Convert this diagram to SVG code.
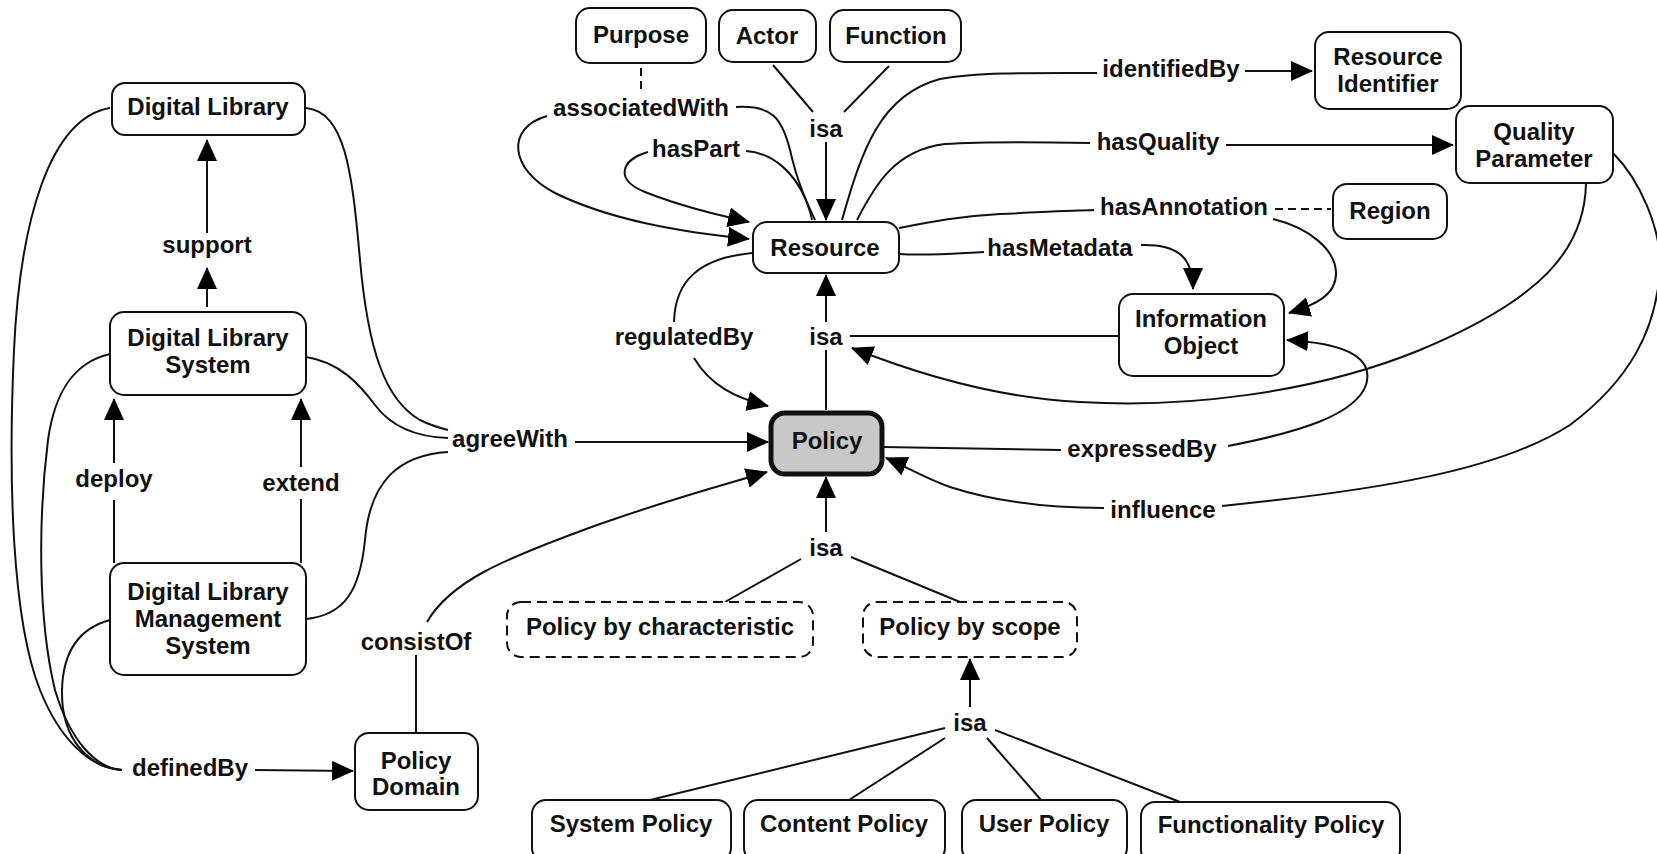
<svg xmlns="http://www.w3.org/2000/svg" width="1657" height="854" viewBox="0 0 1657 854">
<defs>
<style>
.t{font-family:"Liberation Sans",Arial,sans-serif;font-weight:bold;font-size:24px;fill:#111;text-anchor:middle}
.b{fill:#fff;stroke:#111;stroke-width:2}
.d{fill:#fff;stroke:#111;stroke-width:2;stroke-dasharray:10 6}
.c{fill:none;stroke:#111;stroke-width:2}
.k{fill:none;stroke:#111;stroke-width:2;stroke-dasharray:8 5}
</style>
<marker id="arr" viewBox="0 0 22 20" markerWidth="22" markerHeight="20" refX="21" refY="10" orient="auto" markerUnits="userSpaceOnUse"><path d="M0,0 L22,10 L0,20 z" fill="#000"/></marker>
</defs>
<rect width="1657" height="854" fill="#fff"/>

<g id="connectors">
<!-- support -->
<path class="c" d="M207,307 L207,268" marker-end="url(#arr)"/>
<path class="c" d="M207,233 L207,140" marker-end="url(#arr)"/>
<!-- deploy / extend -->
<path class="c" d="M114,463 L114,399" marker-end="url(#arr)"/>
<path class="c" d="M114,500 L114,563"/>
<path class="c" d="M301,467 L301,399" marker-end="url(#arr)"/>
<path class="c" d="M301,499 L301,563"/>
<!-- definedBy -->
<path class="c" d="M110,108 C50,118 20,220 14,350 C8,480 12,620 40,690 C60,740 90,768 122,770"/>
<path class="c" d="M110,354 C75,362 55,390 48,440 C38,520 38,620 55,690 C70,740 95,768 122,770"/>
<path class="c" d="M110,620 C80,628 63,650 62,690 C61,740 90,768 122,770"/>
<path class="c" d="M255,770 L353,771" marker-end="url(#arr)"/>
<!-- agreeWith -->
<path class="c" d="M306,108 C345,112 352,170 360,260 C368,350 385,400 420,420 C432,426 440,428 448,430"/>
<path class="c" d="M306,357 C340,362 360,385 375,405 C390,425 415,437 448,438"/>
<path class="c" d="M306,619 C345,615 360,590 365,540 C370,480 400,455 448,452"/>
<path class="c" d="M575,442 L768,442" marker-end="url(#arr)"/>
<!-- consistOf -->
<path class="c" d="M416,655 L416,733"/>
<path class="c" d="M427,622 C450,582 500,560 600,524 C680,496 720,486 767,472" marker-end="url(#arr)"/>
<!-- isa top -->
<path class="c" d="M773,65 L813,112"/>
<path class="c" d="M889,66 L844,112"/>
<path class="c" d="M826,142 L826,220" marker-end="url(#arr)"/>
<!-- Purpose dashed -->
<path class="k" d="M641,68 L641,94"/>
<!-- associatedWith -->
<path class="c" d="M736,107 C772,105 782,118 790,150 C798,185 808,205 815,220"/>
<path class="c" d="M547,116 C505,128 510,170 555,193 C610,220 680,232 749,239" marker-end="url(#arr)"/>
<!-- hasPart -->
<path class="c" d="M746,151 C775,153 795,175 805,198 C809,208 811,214 812,220"/>
<path class="c" d="M648,152 C620,160 615,180 645,192 C680,206 715,214 749,222" marker-end="url(#arr)"/>
<!-- identifiedBy -->
<path class="c" d="M842,220 C862,150 880,95 940,79 C980,72 1040,73 1097,73"/>
<path class="c" d="M1245,71 L1312,71" marker-end="url(#arr)"/>
<!-- hasQuality -->
<path class="c" d="M857,220 C875,185 895,150 945,144 C990,141 1040,142 1090,143"/>
<path class="c" d="M1226,145 L1453,145" marker-end="url(#arr)"/>
<!-- hasAnnotation -->
<path class="c" d="M899,228 C930,222 960,216 1000,214 C1040,212 1070,211 1094,210"/>
<path class="k" d="M1275,209 L1331,209"/>
<path class="c" d="M1273,219 C1310,228 1335,250 1336,272 C1337,295 1315,305 1289,313" marker-end="url(#arr)"/>
<!-- hasMetadata -->
<path class="c" d="M899,254 C930,256 960,253 984,252"/>
<path class="c" d="M1141,245 C1175,244 1193,255 1193,289" marker-end="url(#arr)"/>
<!-- regulatedBy -->
<path class="c" d="M752,253 C700,258 675,280 674,322"/>
<path class="c" d="M694,358 C710,385 735,398 768,406" marker-end="url(#arr)"/>
<!-- isa mid -->
<path class="c" d="M826,410 L826,350"/>
<path class="c" d="M826,322 L826,275" marker-end="url(#arr)"/>
<path class="c" d="M850,336 L1119,336"/>
<path class="c" d="M1586,183 C1585,250 1540,300 1420,350 C1310,395 1180,408 1080,402 C1000,398 920,375 852,348" marker-end="url(#arr)"/>
<!-- expressedBy -->
<path class="c" d="M883,447 L1061,450"/>
<path class="c" d="M1228,446 C1300,432 1355,415 1366,385 C1375,355 1340,343 1287,340" marker-end="url(#arr)"/>
<!-- influence -->
<path class="c" d="M1613,153 C1640,180 1662,230 1660,270 C1656,330 1630,380 1570,425 C1500,470 1380,490 1222,506"/>
<path class="c" d="M1104,508 C1040,508 990,500 950,487 C925,478 905,466 886,458" marker-end="url(#arr)"/>
<!-- isa below Policy -->
<path class="c" d="M826,532 L826,477" marker-end="url(#arr)"/>
<path class="c" d="M801,559 L725,602"/>
<path class="c" d="M851,557 L960,602"/>
<!-- isa bottom -->
<path class="c" d="M970,707 L970,659" marker-end="url(#arr)"/>
<path class="c" d="M945,728 L650,800"/>
<path class="c" d="M945,738 L849,800"/>
<path class="c" d="M987,738 L1041,800"/>
<path class="c" d="M995,730 L1180,802"/>
</g>

<g id="labels">
<text class="t" x="207" y="253">support</text>
<text class="t" x="114" y="487">deploy</text>
<text class="t" x="301" y="491">extend</text>
<text class="t" x="510" y="447">agreeWith</text>
<text class="t" x="416" y="650">consistOf</text>
<text class="t" x="190" y="776">definedBy</text>
<text class="t" x="641" y="116">associatedWith</text>
<text class="t" x="696" y="157">hasPart</text>
<text class="t" x="826" y="137">isa</text>
<text class="t" x="684" y="345">regulatedBy</text>
<text class="t" x="826" y="345">isa</text>
<text class="t" x="826" y="556">isa</text>
<text class="t" x="970" y="731">isa</text>
<text class="t" x="1171" y="77">identifiedBy</text>
<text class="t" x="1158" y="150">hasQuality</text>
<text class="t" x="1184" y="215">hasAnnotation</text>
<text class="t" x="1060" y="256">hasMetadata</text>
<text class="t" x="1142" y="457">expressedBy</text>
<text class="t" x="1163" y="518">influence</text>
</g>

<g id="digital-library"><rect class="b" x="112" y="83" width="193" height="52" rx="13"/><text class="t" x="208" y="115">Digital Library</text></g>
<g id="digital-library-system"><rect class="b" x="110" y="312" width="196" height="83" rx="14"/><text class="t" x="208" y="346">Digital Library</text><text class="t" x="208" y="373">System</text></g>
<g id="dlms"><rect class="b" x="110" y="563" width="196" height="112" rx="14"/><text class="t" x="208" y="600">Digital Library</text><text class="t" x="208" y="627">Management</text><text class="t" x="208" y="654">System</text></g>
<g id="policy-domain"><rect class="b" x="355" y="733" width="123" height="77" rx="14"/><text class="t" x="416" y="769">Policy</text><text class="t" x="416" y="795">Domain</text></g>
<g id="purpose"><rect class="b" x="576" y="8" width="130" height="55" rx="14"/><text class="t" x="641" y="43">Purpose</text></g>
<g id="actor"><rect class="b" x="719" y="10" width="97" height="52" rx="14"/><text class="t" x="767" y="44">Actor</text></g>
<g id="function"><rect class="b" x="830" y="10" width="131" height="52" rx="14"/><text class="t" x="896" y="44">Function</text></g>
<g id="resource"><rect class="b" x="753" y="222" width="146" height="51" rx="14"/><text class="t" x="825" y="256">Resource</text></g>
<g id="resource-identifier"><rect class="b" x="1315" y="32" width="146" height="77" rx="14"/><text class="t" x="1388" y="65">Resource</text><text class="t" x="1388" y="92">Identifier</text></g>
<g id="quality-parameter"><rect class="b" x="1456" y="106" width="157" height="77" rx="14"/><text class="t" x="1534" y="140">Quality</text><text class="t" x="1534" y="167">Parameter</text></g>
<g id="region"><rect class="b" x="1333" y="184" width="114" height="55" rx="14"/><text class="t" x="1390" y="219">Region</text></g>
<g id="information-object"><rect class="b" x="1119" y="294" width="165" height="82" rx="14"/><text class="t" x="1201" y="327">Information</text><text class="t" x="1201" y="354">Object</text></g>
<g id="policy"><rect x="771" y="413" width="111" height="61" rx="14" fill="#c8c8c8" stroke="#111" stroke-width="5"/><text class="t" x="827" y="449">Policy</text></g>
<g id="policy-by-characteristic"><rect class="d" x="507" y="602" width="306" height="55" rx="14"/><text class="t" x="660" y="635">Policy by characteristic</text></g>
<g id="policy-by-scope"><rect class="d" x="863" y="602" width="214" height="55" rx="14"/><text class="t" x="970" y="635">Policy by scope</text></g>
<g id="system-policy"><rect class="b" x="532" y="800" width="199" height="62" rx="14"/><text class="t" x="631" y="832">System Policy</text></g>
<g id="content-policy"><rect class="b" x="744" y="800" width="201" height="62" rx="14"/><text class="t" x="844" y="832">Content Policy</text></g>
<g id="user-policy"><rect class="b" x="962" y="800" width="165" height="62" rx="14"/><text class="t" x="1044" y="832">User Policy</text></g>
<g id="functionality-policy"><rect class="b" x="1141" y="802" width="259" height="62" rx="14"/><text class="t" x="1271" y="833">Functionality Policy</text></g>
</svg>
